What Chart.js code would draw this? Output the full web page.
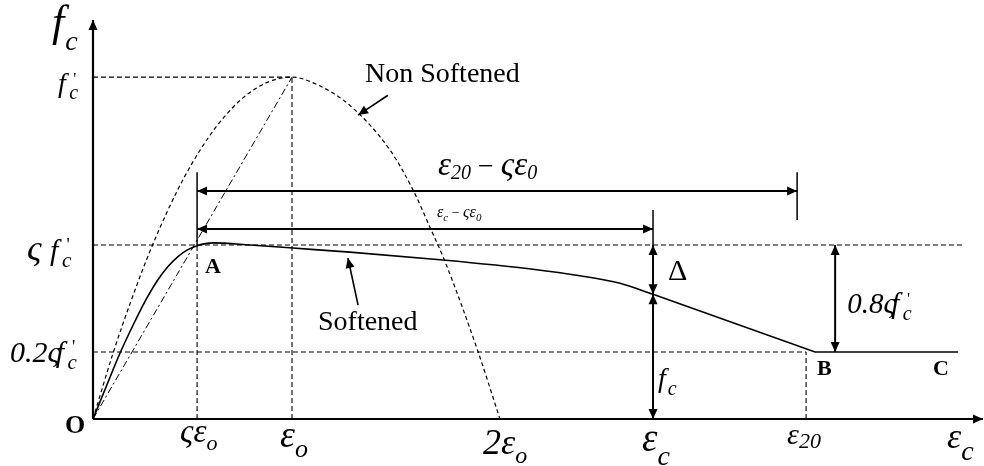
<!DOCTYPE html>
<html>
<head>
<meta charset="utf-8">
<script src="https://cdn.jsdelivr.net/npm/chart.js@4.4.1/dist/chart.umd.min.js"></script>
<style>
  html, body { margin: 0; padding: 0; background: #fff; }
  #wrap { width: 984px; height: 466px; position: relative; }
</style>
</head>
<body>
<div id="wrap"><canvas id="grafico"></canvas></div>
<script>
// strain in units of ε0, stress in units of f'c
const tickStrains = [0.523, 1.0, 2.045, 2.814, 3.583];
const tickLabels = [['ςε', 'o'], ['ε', 'o'], ['2ε', 'o'], ['ε', 'c'], ['ε', '20']];
const stressLevels = [1.0, 0.509, 0.196]; // f'c, ςf'c, 0.2ςf'c

const softStrain = [0, 0.070, 0.136, 0.206, 0.271, 0.327, 0.377, 0.427, 0.472, 0.523, 0.603, 0.789, 1.005, 1.291, 1.759, 2.211, 2.447, 2.648, 2.814];
const softStress = [0, 0.100, 0.193, 0.280, 0.354, 0.408, 0.446, 0.475, 0.494, 0.507, 0.515, 0.509, 0.500, 0.488, 0.465, 0.438, 0.419, 0.397, 0.365];
const tailStrain = [2.814, 3.628, 4.347];
const tailStress = [0.365, 0.196, 0.196];

const plainStrain = [0, 0.101, 0.186, 0.261, 0.327, 0.422, 0.497, 0.588, 0.653, 0.739, 0.824, 0.905, 1.0, 1.126, 1.291, 1.492, 1.608, 1.693, 1.769, 1.930, 2.045];
const plainStress = [0, 0.193, 0.337, 0.454, 0.547, 0.666, 0.747, 0.830, 0.879, 0.932, 0.969, 0.991, 1.0, 0.978, 0.917, 0.787, 0.670, 0.561, 0.460, 0.205, 0];

const eps20Mark = 3.538; // right end of the ε20 − ςε0 span

const [fcPeak, zetaFc, lowFc] = stressLevels;
const [zetaEps0, eps0, twoEps0, epsC, eps20] = tickStrains;
const fcAtEpsC = softStress[softStress.length - 1];

const pts = (xs, ys) => xs.map((v, i) => ({ x: v, y: ys[i] }));

function seg(x1, y1, x2, y2, dash, width) {
  return {
    data: [{ x: x1, y: y1 }, { x: x2, y: y2 }],
    showLine: true, borderColor: '#000', borderWidth: width || 1.1,
    borderDash: dash || [], pointRadius: 0, tension: 0, clip: false
  };
}

const FONT = '"Liberation Serif", "Times New Roman", serif';

const sketch = {
  id: 'sketch',
  afterDatasetsDraw(chart) {
    const { ctx, scales: { x, y } } = chart;
    const px = v => x.getPixelForValue(v);
    const py = v => y.getPixelForValue(v);
    const ox = px(0), oy = py(0);

    ctx.save();
    ctx.fillStyle = '#000';
    ctx.strokeStyle = '#000';
    ctx.setLineDash([]);

    function head(tx, ty, ang) {
      const L = 10, W = 4.5;
      ctx.beginPath();
      ctx.moveTo(tx, ty);
      ctx.lineTo(tx - L * Math.cos(ang) + W * Math.sin(ang), ty - L * Math.sin(ang) - W * Math.cos(ang));
      ctx.lineTo(tx - L * Math.cos(ang) - W * Math.sin(ang), ty - L * Math.sin(ang) + W * Math.cos(ang));
      ctx.closePath();
      ctx.fill();
    }
    function arrow(x1, y1, x2, y2, both, lw) {
      ctx.lineWidth = lw;
      ctx.beginPath();
      ctx.moveTo(x1, y1);
      ctx.lineTo(x2, y2);
      ctx.stroke();
      head(x2, y2, Math.atan2(y2 - y1, x2 - x1));
      if (both) head(x1, y1, Math.atan2(y1 - y2, x1 - x2));
    }
    function write(parts, left, base) {
      let cx = left;
      for (const [t, size, style, dy = 0, dx = 0] of parts) {
        ctx.font = style + ' ' + size + 'px ' + FONT;
        ctx.fillText(t, cx + dx, base + dy);
        cx += dx + ctx.measureText(t).width;
      }
      return cx;
    }
    function fPrime(left, base, size) {
      ctx.font = 'italic ' + size + 'px ' + FONT;
      ctx.fillText('f', left, base);
      const cx = left + ctx.measureText('f').width + size * 0.12;
      ctx.font = 'italic ' + Math.round(size * 0.7) + 'px ' + FONT;
      ctx.fillText('c', cx, base + size * 0.25);
      ctx.font = Math.round(size * 0.6) + 'px ' + FONT;
      ctx.fillText("'", cx + size * 0.15, base - size * 0.3);
    }

    // axes
    arrow(ox, oy, px(x.max), oy, false, 2.2);
    arrow(ox, oy, ox, py(y.max), false, 2.2);

    // dimension arrows
    arrow(px(zetaEps0), py(0.667), px(eps20Mark), py(0.667), true, 2);
    arrow(px(zetaEps0), py(0.556), px(epsC), py(0.556), true, 2);
    arrow(px(epsC), py(zetaFc), px(epsC), py(fcAtEpsC), true, 2);
    arrow(px(epsC), py(fcAtEpsC), px(epsC), oy, true, 2);
    arrow(px(3.729), py(zetaFc), px(3.729), py(lowFc), true, 2);

    // pointers to the curves
    arrow(px(1.482), py(0.947), px(1.332), py(0.889), false, 1.6);
    arrow(px(1.332), py(0.333), px(1.281), py(0.471), false, 1.6);

    ctx.textBaseline = 'alphabetic';
    ctx.textAlign = 'left';

    // axis titles
    write([['f', 44, 'italic'], ['c', 28, 'italic', 14, 1]], ox - 41, py(y.max) + 16);
    write([['ε', 36, 'italic'], ['c', 28, 'italic', 12]], px(x.max) - 36, oy + 29);
    write([['O', 26, 'bold']], ox - 28, oy + 14);

    // stress level labels
    fPrime(58, py(fcPeak) + 15, 28);
    write([['ς', 36, 'italic']], 27, py(zetaFc) + 15);
    fPrime(50, py(zetaFc) + 15, 30);
    const e1 = write([['0.2ς', 30, 'italic']], 10, py(lowFc) + 10);
    fPrime(e1 - 4, py(lowFc) + 10, 30);

    // strain tick labels
    const tickStyle = [
      { dx: -17, base: 23, size: 33, sub: 22, dy: 8 },
      { dx: -12, base: 28, size: 38, sub: 26, dy: 10 },
      { dx: -17, base: 35, size: 36, sub: 24, dy: 9 },
      { dx: -11, base: 32, size: 39, sub: 28, dy: 14 },
      { dx: -19, base: 25, size: 30, sub: 22, dy: 4 }
    ];
    tickStrains.forEach((s, i) => {
      const st = tickStyle[i];
      write([[tickLabels[i][0], st.size, 'italic'], [tickLabels[i][1], st.sub, 'italic', st.dy]],
        px(s) + st.dx, oy + st.base);
    });

    // span labels
    write([['ε', 33, 'italic'], ['20', 20, 'italic', 4], [' − ', 28, ''], ['ςε', 33, 'italic'], ['0', 20, 'italic', 4]],
      438, py(0.667) - 16);
    write([['ε', 16, 'italic'], ['c', 11, 'italic', 4], [' − ', 14, ''], ['ςε', 16, 'italic'], ['0', 11, 'italic', 4]],
      437, py(0.556) - 12);

    // point and curve labels
    ctx.font = '28px ' + FONT;
    ctx.fillText('Non Softened', 365, 82);
    ctx.fillText('Softened', 318, 330);
    ctx.font = 'bold 22px ' + FONT;
    ctx.fillText('A', px(zetaEps0) + 8, py(zetaFc) + 28);
    ctx.fillText('B', px(3.628) + 2, py(lowFc) + 23);
    ctx.fillText('C', px(4.347) - 25, py(lowFc) + 23);
    ctx.font = '30px ' + FONT;
    ctx.fillText('Δ', px(epsC) + 15, py(fcAtEpsC) - 14);
    write([['f', 28, 'italic'], ['c', 20, 'italic', 8, 2]], px(epsC) + 5, 387);
    const e2 = write([['0.8ς', 29, 'italic']], px(3.729) + 12, 313);
    fPrime(e2 - 4, 313, 29);

    ctx.restore();
  }
};

new Chart(document.getElementById('grafico'), {
  type: 'scatter',
  data: {
    datasets: [
      { data: pts(softStrain, softStress), showLine: true, borderColor: '#000', borderWidth: 1.6,
        cubicInterpolationMode: 'monotone', pointRadius: 0, clip: false },
      { data: pts(tailStrain, tailStress), showLine: true, borderColor: '#000', borderWidth: 1.6,
        tension: 0, pointRadius: 0, clip: false },
      { data: pts(plainStrain, plainStress), showLine: true, borderColor: '#000', borderWidth: 1.2,
        borderDash: [4, 3], cubicInterpolationMode: 'monotone', pointRadius: 0, clip: false },
      seg(0, 0, eps0, fcPeak, [7, 3, 2, 3], 1),
      seg(0, fcPeak, eps0, fcPeak, [5, 3]),
      seg(eps0, 0, eps0, fcPeak, [5, 3]),
      seg(0, zetaFc, 4.372, zetaFc, [5, 3]),
      seg(zetaEps0, 0, zetaEps0, zetaFc, [5, 3]),
      seg(0, lowFc, eps20, lowFc, [5, 3]),
      seg(eps20, 0, eps20, lowFc, [5, 3]),
      seg(zetaEps0, zetaFc, zetaEps0, 0.722, [], 1.5),
      seg(eps20Mark, 0.582, eps20Mark, 0.722, [], 1.5),
      seg(epsC, zetaFc, epsC, 0.611, [], 1.5)
    ]
  },
  options: {
    responsive: true,
    maintainAspectRatio: false,
    animation: false,
    layout: { padding: { left: 93, right: 1, top: 20, bottom: 47 } },
    scales: {
      x: { type: 'linear', min: 0, max: 4.472, display: false },
      y: { min: 0, max: 1.167, display: false }
    },
    plugins: { legend: { display: false }, tooltip: { enabled: false } }
  },
  plugins: [sketch]
});
</script>
</body>
</html>
